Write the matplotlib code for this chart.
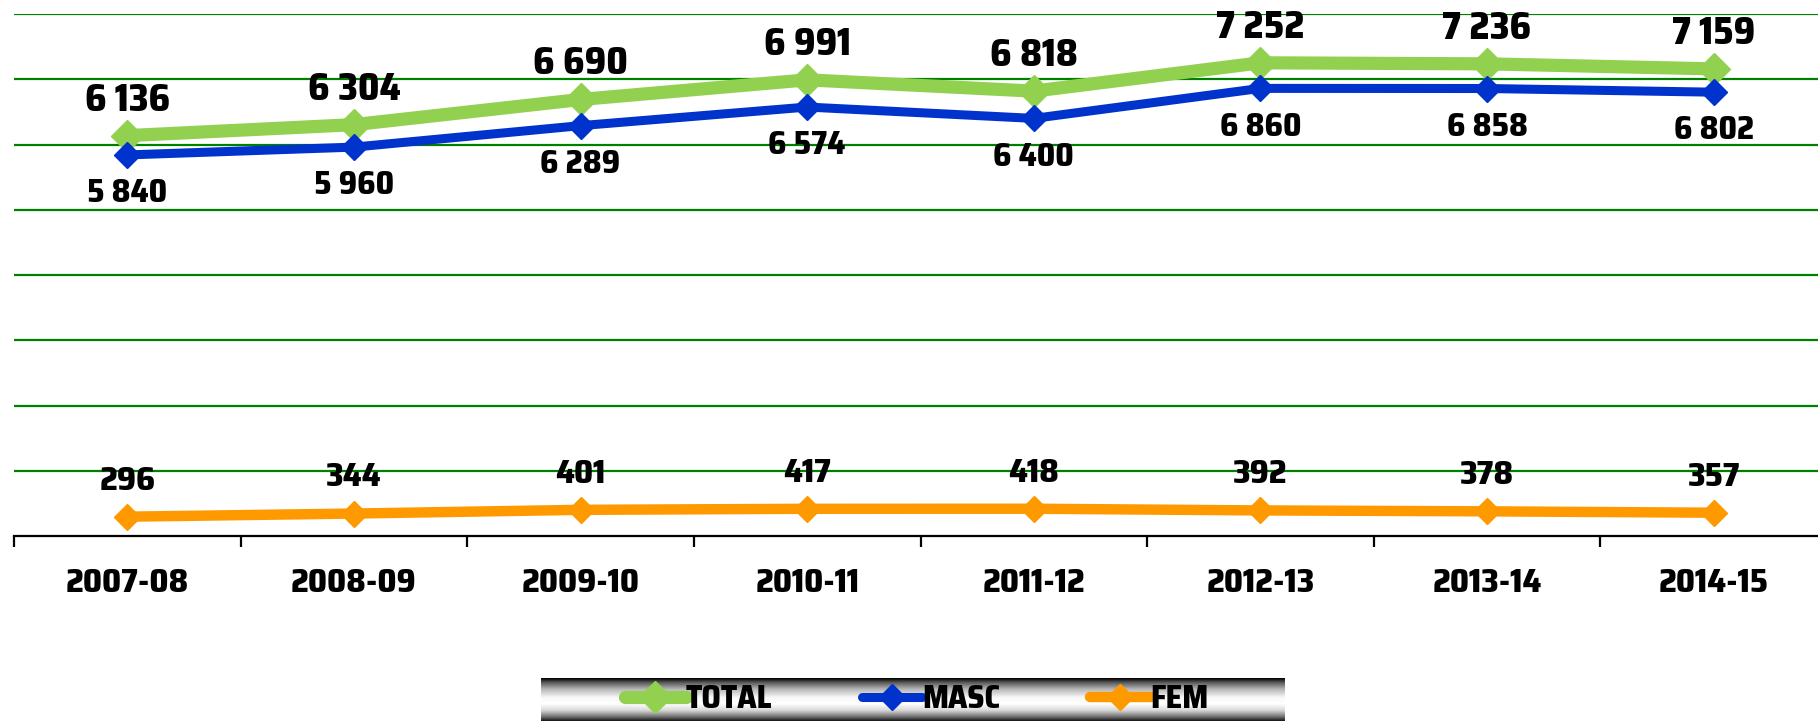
import numpy as np
import matplotlib
matplotlib.use('Agg')
import matplotlib.pyplot as plt

# Datos
years = ['2007-08', '2008-09', '2009-10', '2010-11', '2011-12', '2012-13', '2013-14', '2014-15']
total = [6136, 6304, 6690, 6991, 6818, 7252, 7236, 7159]
masc = [5840, 5960, 6289, 6574, 6400, 6860, 6858, 6802]
fem = [296, 344, 401, 417, 418, 392, 378, 357]

FONT = ['Saira SemiCondensed', 'Saira Condensed', 'DejaVu Sans']
WEIGHT = 800
W, H = 1818, 721


def fmt(v):
    # separador de miles con espacio
    return f"{v:,}".replace(',', ' ')


def create_plot(output_path):
    plt.rcParams['font.family'] = FONT
    plt.rcParams['font.weight'] = WEIGHT
    fig = plt.figure(figsize=(W / 100, H / 100), dpi=100)
    ax = fig.add_axes([14 / W, 185 / H, (1827 - 14) / W, (536 - 14) / H])

    x = np.arange(len(years))
    l_tot, = ax.plot(x, total, color='#92D050', lw=9.5, marker='D', ms=16,
                     solid_capstyle='round', label='TOTAL', zorder=3)
    l_mas, = ax.plot(x, masc, color='#0033CC', lw=6.5, marker='D', ms=13,
                     solid_capstyle='round', label='MASC', zorder=4)
    l_fem, = ax.plot(x, fem, color='#FF9900', lw=7.5, marker='D', ms=13,
                     solid_capstyle='round', label='FEM', zorder=4)

    # etiquetas de valores
    for xi, v in zip(x, total):
        ax.annotate(fmt(v), (xi, v), xytext=(0, 18), textcoords='offset points',
                    ha='center', va='baseline', fontsize=27, fontweight=WEIGHT)
    for xi, v in zip(x, masc):
        ax.annotate(fmt(v), (xi, v), xytext=(0, -34), textcoords='offset points',
                    ha='center', va='baseline', fontsize=23, fontweight=WEIGHT)
    for xi, v in zip(x, fem):
        ax.annotate(fmt(v), (xi, v), xytext=(0, 19.5), textcoords='offset points',
                    ha='center', va='baseline', fontsize=24, fontweight=WEIGHT)

    ax.set_xlim(-0.5, len(years) - 0.5)
    ax.set_ylim(0, 8000)
    for g in range(1000, 8001, 1000):
        ax.axhline(g, color='#008000', lw=1.6, zorder=1)

    # ejes
    for s in ['top', 'right', 'left']:
        ax.spines[s].set_visible(False)
    ax.spines['bottom'].set_linewidth(1.6)
    ax.set_yticks([])
    ax.set_xticks(np.arange(-0.5, len(years), 1.0))
    ax.set_xticklabels([])
    ax.tick_params(axis='x', which='major', length=8, width=1.6, direction='out')
    ax.set_xticks(x, minor=True)
    ax.set_xticklabels(years, minor=True, fontsize=24, fontweight=WEIGHT)
    ax.tick_params(axis='x', which='minor', length=0, pad=23)

    # fondo de la leyenda con degradado metalico
    lax = fig.add_axes([541 / W, 0, 744 / W, 43 / H])
    prof = np.interp(np.linspace(0, 1, 100),
                     [0, 0.1, 0.25, 0.45, 0.6, 0.75, 0.9, 1.0],
                     [0.0, 0.35, 0.7, 0.97, 1.0, 0.85, 0.45, 0.1])
    lax.imshow(prof[:, None], cmap='gray', vmin=0, vmax=1, aspect='auto')
    lax.axis('off')

    fig.legend(handles=[l_tot, l_mas, l_fem], loc='center',
               bbox_to_anchor=(917 / W, 21.5 / H), ncol=3, frameon=False,
               handlelength=1.9, handletextpad=0.0, columnspacing=2.8,
               prop={'family': FONT, 'weight': WEIGHT, 'size': 23})

    plt.savefig(output_path, dpi=100)
    plt.close(fig)


if __name__ == "__main__":
    create_plot('out.png')
